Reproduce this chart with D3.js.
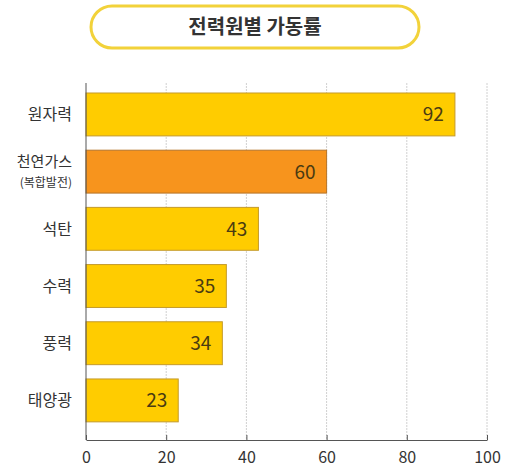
<!DOCTYPE html>
<html>
<head>
<meta charset="utf-8">
<script src="https://cdn.jsdelivr.net/npm/d3@7"></script>
<style>
  body { margin: 0; background: #fff; }
  svg { font-family: "Noto Sans CJK KR", "Noto Sans", sans-serif; }
</style>
</head>
<body>
<div id="chart"></div>
<script>
const title = '전력원별 가동률';
const categories = ['원자력', '천연가스', '석탄', '수력', '풍력', '태양광'];
const subLabels = ['', '(복합발전)', '', '', '', ''];
const values = [92, 60, 43, 35, 34, 23];
const highlight = ['천연가스'];
const xTicks = [0, 20, 40, 60, 80, 100];

const width = 509;
const height = 471;

let svg = d3.select('#chart').append('svg')
  .attr('width', width)
  .attr('height', height);

// Title pill
svg.append('rect')
  .attr('x', 91).attr('y', 6)
  .attr('width', 328).attr('height', 42)
  .attr('rx', 21)
  .attr('fill', '#fff')
  .attr('stroke', '#f2d23a')
  .attr('stroke-width', 3);

svg.append('text')
  .attr('x', 255).attr('y', 34)
  .attr('text-anchor', 'middle')
  .attr('font-size', 20)
  .attr('font-weight', 'bold')
  .attr('fill', '#333')
  .text(title);

let x = d3.scaleLinear().domain([0, 100]).range([86, 487]);
let y = d3.scaleBand()
  .domain(categories)
  .range([85.85, 429])
  .paddingInner(0.25)
  .paddingOuter(0.125);

const axisY = 440;
const plotTop = 83;

// Grid lines
svg.append('g')
  .selectAll('line')
  .data(xTicks.slice(1))
  .enter()
  .append('line')
    .attr('x1', d => x(d)).attr('x2', d => x(d))
    .attr('y1', plotTop).attr('y2', axisY)
    .attr('stroke', '#d0d0d0')
    .attr('stroke-width', 1)
    .attr('stroke-dasharray', '2,1');

// Bars
svg.append('g')
  .selectAll('rect')
  .data(categories)
  .enter()
  .append('rect')
    .attr('x', x(0))
    .attr('y', d => y(d))
    .attr('width', (d, i) => x(values[i]) - x(0))
    .attr('height', y.bandwidth())
    .attr('fill', d => highlight.includes(d) ? '#f7941d' : '#ffcc00')
    .attr('stroke', d => highlight.includes(d) ? '#b5752a' : '#c49a2a')
    .attr('stroke-width', 1);

// Value labels
svg.append('g')
  .selectAll('text')
  .data(categories)
  .enter()
  .append('text')
    .attr('x', (d, i) => x(values[i]) - 11)
    .attr('y', d => y(d) + y.bandwidth() / 2 + 7)
    .attr('text-anchor', 'end')
    .attr('font-size', 19)
    .attr('fill', '#4a3b12')
    .text((d, i) => values[i]);

// Category labels
let cat = svg.append('g')
  .selectAll('g')
  .data(categories)
  .enter()
  .append('g');

cat.append('text')
  .attr('x', 72)
  .attr('y', (d, i) => y(d) + y.bandwidth() / 2 + (subLabels[i] ? -5 : 6))
  .attr('text-anchor', 'end')
  .attr('font-size', d => subLabels[categories.indexOf(d)] ? 15 : 16)
  .attr('fill', '#333')
  .text(d => d);

cat.filter((d, i) => subLabels[i])
  .append('text')
  .attr('x', 72)
  .attr('y', d => y(d) + y.bandwidth() / 2 + 15)
  .attr('text-anchor', 'end')
  .attr('font-size', 12)
  .attr('fill', '#333')
  .text(d => subLabels[categories.indexOf(d)]);

// Y axis line
svg.append('line')
  .attr('x1', x(0)).attr('x2', x(0))
  .attr('y1', plotTop).attr('y2', axisY)
  .attr('stroke', '#555')
  .attr('stroke-width', 1);

// X axis
let xAxis = svg.append('g')
  .attr('transform', `translate(0,${axisY})`)
  .call(d3.axisBottom(x).tickValues(xTicks).tickSizeInner(-5).tickSizeOuter(0).tickPadding(12));

xAxis.select('.domain').attr('stroke', '#555');
xAxis.selectAll('.tick line').attr('stroke', '#555');
xAxis.selectAll('.tick text')
  .attr('font-size', 16)
  .attr('font-family', '"Noto Sans CJK KR", sans-serif')
  .attr('fill', '#333');
</script>
</body>
</html>
